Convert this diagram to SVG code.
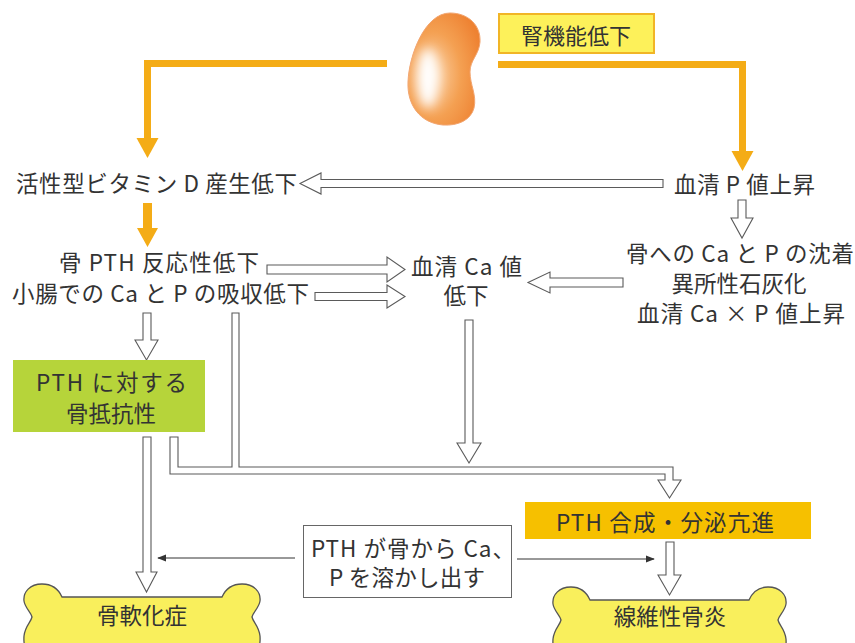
<svg xmlns="http://www.w3.org/2000/svg" width="855" height="643" viewBox="0 0 855 643">
  <defs>
    <radialGradient id="kidneyFill" cx="0.35" cy="0.55" r="0.7">
      <stop offset="0" stop-color="#fbd2a6"/>
      <stop offset="0.55" stop-color="#f4a052"/>
      <stop offset="1" stop-color="#ee8232"/>
    </radialGradient>
    <filter id="soft" x="-50%" y="-50%" width="200%" height="200%">
      <feGaussianBlur stdDeviation="6"/>
    </filter>
    <clipPath id="kidneyClip">
      <path d="M450,13 C468,13 481,25 480,42 C479,55 470,60 470,72 C470,85 477,95 474,108 C471,120 458,126 443,125 C420,123 407,105 408,82 C409,55 425,13 450,13 Z"/>
    </clipPath>
    <marker id="tip" viewBox="0 0 10 10" refX="9" refY="5" markerWidth="9" markerHeight="9" markerUnits="userSpaceOnUse" orient="auto">
      <path d="M0,1 L10,5 L0,9 Z" fill="#333"/>
    </marker>
    <style>
      text { font-family: "Noto Sans CJK JP", "Noto Sans", sans-serif; font-size: 22.5px; fill: #333; }
      .mid { text-anchor: middle; }
      .hollow { fill: #fff; stroke: #5a5a5a; stroke-width: 1.1; stroke-linejoin: miter; }
      .orange { fill: none; stroke: #f4ac16; stroke-width: 7; }
      .orangeHead { fill: #f4ac16; }
      .thin { fill: none; stroke: #333; stroke-width: 1; marker-end: url(#tip); }
      .bone { fill: #f9ef5c; stroke: #555; stroke-width: 1.3; }
    </style>
  </defs>

  <!-- kidney with a soft highlight on its left side -->
  <g id="kidney">
    <path d="M450,13 C468,13 481,25 480,42 C479,55 470,60 470,72 C470,85 477,95 474,108 C471,120 458,126 443,125 C420,123 407,105 408,82 C409,55 425,13 450,13 Z" fill="url(#kidneyFill)" stroke="#f2a46e" stroke-width="1"/>
    <g clip-path="url(#kidneyClip)">
      <ellipse cx="428" cy="78" rx="11" ry="30" fill="#ffffff" filter="url(#soft)"/>
    </g>
  </g>

  <g id="renal-decline">
    <rect x="499" y="14" width="155" height="39" fill="#fdf15a" stroke="#f1b526" stroke-width="2"/>
    <text x="576" y="44" class="mid" style="font-size:22px">腎機能低下</text>
  </g>

  <!-- connectors -->
  <g id="connectors">
    <!-- orange: kidney to both sides -->
    <polyline class="orange" points="387,63.5 147.5,63.5 147.5,140"/>
    <polygon class="orangeHead" points="136.5,138 158.5,138 147.5,158"/>
    <polyline class="orange" points="498,64.5 742.5,64.5 742.5,153"/>
    <polygon class="orangeHead" points="731.5,151 753.5,151 742.5,171"/>
    <!-- orange: vitamin D to PTH response -->
    <polygon class="orangeHead" points="143,203 152,203 152,228 158,228 147.5,247 137,228 143,228"/>

    <!-- serum P to vitamin D -->
    <path class="hollow" d="M663,179.5 L321,179.5 L321,173 L300,183.5 L321,194 L321,187.5 L663,187.5 Z"/>
    <!-- serum P down to deposition -->
    <path class="hollow" d="M738,200 L746,200 L746,218 L753,218 L742,238 L731,218 L738,218 Z"/>
    <!-- PTH response to serum Ca -->
    <path class="hollow" d="M267,265 L387,265 L387,257 L405,269.5 L387,282 L387,274 L267,274 Z"/>
    <!-- intestinal absorption to serum Ca -->
    <path class="hollow" d="M315,292.5 L387,292.5 L387,285 L405,296.5 L387,308 L387,300.5 L315,300.5 Z"/>
    <!-- deposition to serum Ca -->
    <path class="hollow" d="M623,278 L550,278 L550,272 L528,282.5 L550,293 L550,287 L623,287 Z"/>
    <!-- intestinal absorption down to bone resistance -->
    <path class="hollow" d="M143,313 L151,313 L151,340 L158,340 L146.5,360 L135,340 L143,340 Z"/>
    <!-- bone resistance down to osteomalacia -->
    <path class="hollow" d="M143,437 L151,437 L151,572 L157,572 L146.5,592 L136,572 L143,572 Z"/>
    <!-- serum Ca down -->
    <path class="hollow" d="M465,320 L473,320 L473,443 L481,443 L469,463 L457,443 L465,443 Z"/>
    <!-- merged route to PTH secretion -->
    <path class="hollow" d="M170,437 L170,474 L665,474 L665,480 L658,480 L669.5,498 L681,480 L673,480 L673,467 L239,467 L239,313 L232,313 L232,467 L178,467 L178,437 Z"/>
    <!-- PTH secretion down to osteitis fibrosa -->
    <path class="hollow" d="M666,542 L674,542 L674,575 L681,575 L669.5,595 L658,575 L666,575 Z"/>
    <!-- bone resorption effect -->
    <line class="thin" x1="295" y1="558" x2="158" y2="558"/>
    <line class="thin" x1="517" y1="559" x2="654" y2="559"/>
  </g>

  <!-- text nodes -->
  <g id="vitd-decline">
    <text x="16" y="192" textLength="281" lengthAdjust="spacing">活性型ビタミン D 産生低下</text>
  </g>
  <g id="serum-p-rise">
    <text x="674" y="193" textLength="141" lengthAdjust="spacing">血清 P 値上昇</text>
  </g>
  <g id="pth-response">
    <text x="59" y="271" textLength="200" lengthAdjust="spacing">骨 PTH 反応性低下</text>
  </g>
  <g id="absorption-decline">
    <text x="12" y="302" textLength="297" lengthAdjust="spacing">小腸での Ca と P の吸収低下</text>
  </g>
  <g id="serum-ca-decline">
    <text x="411" y="275" textLength="111" lengthAdjust="spacing">血清 Ca 値</text>
    <text x="466" y="304" class="mid">低下</text>
  </g>
  <g id="calcification">
    <text x="626" y="262" textLength="228" lengthAdjust="spacing">骨への Ca と P の沈着</text>
    <text x="739" y="292" class="mid">異所性石灰化</text>
    <text x="637" y="322" textLength="208" lengthAdjust="spacing">血清 Ca × P 値上昇</text>
  </g>
  <g id="bone-resistance">
    <rect x="13" y="360" width="192" height="72" fill="#b6d43a"/>
    <text x="36" y="391" textLength="151" lengthAdjust="spacing">PTH に対する</text>
    <text x="111" y="422" class="mid">骨抵抗性</text>
  </g>
  <g id="pth-secretion">
    <rect x="525" y="502" width="286" height="37" fill="#f6c000"/>
    <text x="556" y="531" textLength="218" lengthAdjust="spacing">PTH 合成・分泌亢進</text>
  </g>
  <g id="bone-resorption">
    <rect x="303.5" y="525.5" width="208" height="72" fill="#fff" stroke="#666" stroke-width="1"/>
    <text x="311" y="557" textLength="204" lengthAdjust="spacing">PTH が骨から Ca、</text>
    <text x="329" y="586" textLength="156" lengthAdjust="spacing">P を溶かし出す</text>
  </g>
  <g id="osteomalacia">
    <path class="bone" d="M62,597 L222,597 C226,588 234,584 242,584 C254,584 261,592 260,601 C259,608 253,612 252,617 C253,622 259,626 260,636 C261,650 254,662 242,662 C234,662 226,656 222,648 L62,648 C58,656 50,662 42,662 C30,662 23,650 24,636 C25,626 31,622 32,617 C31,612 25,608 24,601 C23,592 30,584 42,584 C50,584 58,588 62,597 Z"/>
    <text x="142" y="624" class="mid">骨軟化症</text>
  </g>
  <g id="osteitis-fibrosa">
    <path class="bone" d="M590,600 L749,600 C753,591 760,587 768,587 C780,587 787,595 786,604 C785,611 779,615 778,620 C779,625 785,629 786,639 C787,653 780,665 768,665 C760,665 753,659 749,651 L590,651 C586,659 579,665 571,665 C559,665 552,653 553,639 C554,629 560,625 561,620 C560,615 554,611 553,604 C552,595 559,587 571,587 C579,587 586,591 590,600 Z"/>
    <text x="670" y="625" class="mid">線維性骨炎</text>
  </g>
</svg>
